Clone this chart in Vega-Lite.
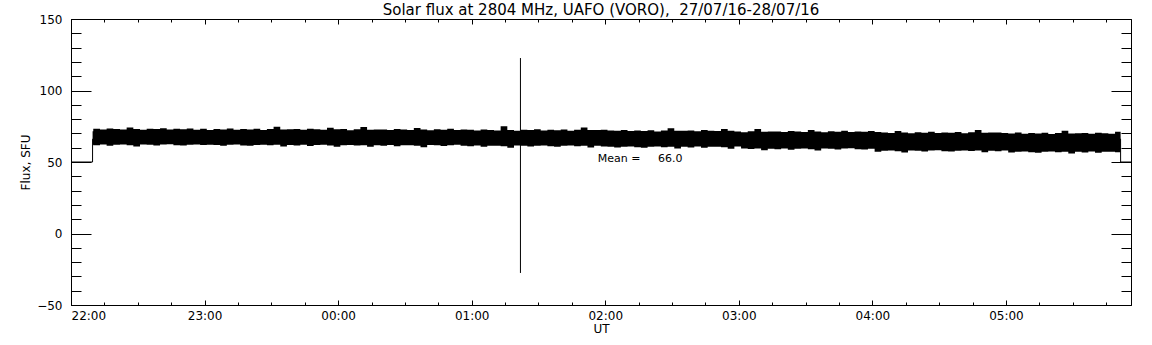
{
  "$schema": "https://vega.github.io/schema/vega-lite/v6.json",
  "width": 1060,
  "height": 286,
  "autosize": {"type": "none"},
  "padding": {"left": 71, "top": 19, "right": 21, "bottom": 40},
  "background": "white",
  "title": {
    "text": "Solar flux at 2804 MHz, UAFO (VORO),\u00a0\u00a027/07/16-28/07/16",
    "font": "DejaVu Sans",
    "fontSize": 15,
    "fontWeight": "normal",
    "color": "black",
    "anchor": "middle",
    "offset": -5
  },
  "config": {
    "view": {"stroke": null},
    "axis": {
      "grid": false,
      "domainColor": "black",
      "tickColor": "black",
      "labelColor": "black",
      "titleColor": "black",
      "labelFont": "DejaVu Sans",
      "titleFont": "DejaVu Sans",
      "labelFontSize": 12,
      "titleFontSize": 12,
      "titleFontWeight": "normal",
      "zindex": 1
    }
  },
  "datasets": {
    "band": [
      {"t": "2016-07-27T22:09:42Z", "lo": 62.0, "hi": 71.5},
      {"t": "2016-07-27T22:10:00Z", "lo": 61.7, "hi": 73.2},
      {"t": "2016-07-27T22:13:00Z", "lo": 62.3, "hi": 72.7},
      {"t": "2016-07-27T22:16:00Z", "lo": 61.4, "hi": 73.5},
      {"t": "2016-07-27T22:19:00Z", "lo": 62.1, "hi": 73.1},
      {"t": "2016-07-27T22:22:00Z", "lo": 62.2, "hi": 72.8},
      {"t": "2016-07-27T22:25:00Z", "lo": 61.8, "hi": 74.2},
      {"t": "2016-07-27T22:28:00Z", "lo": 60.8, "hi": 73.1},
      {"t": "2016-07-27T22:31:00Z", "lo": 62.3, "hi": 72.6},
      {"t": "2016-07-27T22:34:00Z", "lo": 62.1, "hi": 73.3},
      {"t": "2016-07-27T22:37:00Z", "lo": 61.6, "hi": 73.0},
      {"t": "2016-07-27T22:40:00Z", "lo": 62.2, "hi": 73.6},
      {"t": "2016-07-27T22:43:00Z", "lo": 62.4, "hi": 72.8},
      {"t": "2016-07-27T22:46:00Z", "lo": 61.8, "hi": 73.2},
      {"t": "2016-07-27T22:49:00Z", "lo": 61.5, "hi": 72.9},
      {"t": "2016-07-27T22:52:00Z", "lo": 62.1, "hi": 73.4},
      {"t": "2016-07-27T22:55:00Z", "lo": 62.3, "hi": 72.6},
      {"t": "2016-07-27T22:58:00Z", "lo": 61.9, "hi": 73.3},
      {"t": "2016-07-27T23:01:00Z", "lo": 62.1, "hi": 72.4},
      {"t": "2016-07-27T23:04:00Z", "lo": 61.9, "hi": 73.1},
      {"t": "2016-07-27T23:07:00Z", "lo": 61.4, "hi": 72.8},
      {"t": "2016-07-27T23:10:00Z", "lo": 62.0, "hi": 73.4},
      {"t": "2016-07-27T23:13:00Z", "lo": 62.2, "hi": 72.6},
      {"t": "2016-07-27T23:16:00Z", "lo": 61.6, "hi": 73.0},
      {"t": "2016-07-27T23:19:00Z", "lo": 61.3, "hi": 72.7},
      {"t": "2016-07-27T23:22:00Z", "lo": 61.9, "hi": 73.2},
      {"t": "2016-07-27T23:25:00Z", "lo": 62.1, "hi": 72.4},
      {"t": "2016-07-27T23:28:00Z", "lo": 61.7, "hi": 73.1},
      {"t": "2016-07-27T23:31:00Z", "lo": 62.0, "hi": 74.6},
      {"t": "2016-07-27T23:34:00Z", "lo": 60.8, "hi": 72.8},
      {"t": "2016-07-27T23:37:00Z", "lo": 61.9, "hi": 72.9},
      {"t": "2016-07-27T23:40:00Z", "lo": 61.5, "hi": 73.0},
      {"t": "2016-07-27T23:43:00Z", "lo": 62.1, "hi": 72.5},
      {"t": "2016-07-27T23:46:00Z", "lo": 61.2, "hi": 73.3},
      {"t": "2016-07-27T23:49:00Z", "lo": 61.9, "hi": 72.9},
      {"t": "2016-07-27T23:52:00Z", "lo": 62.0, "hi": 72.6},
      {"t": "2016-07-27T23:55:00Z", "lo": 61.6, "hi": 74.0},
      {"t": "2016-07-27T23:58:00Z", "lo": 60.6, "hi": 72.9},
      {"t": "2016-07-28T00:01:00Z", "lo": 61.7, "hi": 73.0},
      {"t": "2016-07-28T00:04:00Z", "lo": 61.9, "hi": 72.2},
      {"t": "2016-07-28T00:07:00Z", "lo": 61.5, "hi": 72.9},
      {"t": "2016-07-28T00:10:00Z", "lo": 61.8, "hi": 74.4},
      {"t": "2016-07-28T00:13:00Z", "lo": 60.6, "hi": 72.6},
      {"t": "2016-07-28T00:16:00Z", "lo": 61.7, "hi": 72.7},
      {"t": "2016-07-28T00:19:00Z", "lo": 61.3, "hi": 72.8},
      {"t": "2016-07-28T00:22:00Z", "lo": 61.9, "hi": 72.3},
      {"t": "2016-07-28T00:25:00Z", "lo": 61.0, "hi": 73.1},
      {"t": "2016-07-28T00:28:00Z", "lo": 61.7, "hi": 72.7},
      {"t": "2016-07-28T00:31:00Z", "lo": 61.8, "hi": 72.4},
      {"t": "2016-07-28T00:34:00Z", "lo": 61.4, "hi": 73.8},
      {"t": "2016-07-28T00:37:00Z", "lo": 60.4, "hi": 72.7},
      {"t": "2016-07-28T00:40:00Z", "lo": 61.9, "hi": 72.2},
      {"t": "2016-07-28T00:43:00Z", "lo": 61.7, "hi": 72.9},
      {"t": "2016-07-28T00:46:00Z", "lo": 61.2, "hi": 72.6},
      {"t": "2016-07-28T00:49:00Z", "lo": 61.8, "hi": 73.2},
      {"t": "2016-07-28T00:52:00Z", "lo": 62.0, "hi": 72.4},
      {"t": "2016-07-28T00:55:00Z", "lo": 61.4, "hi": 72.8},
      {"t": "2016-07-28T00:58:00Z", "lo": 61.1, "hi": 72.5},
      {"t": "2016-07-28T01:01:00Z", "lo": 61.5, "hi": 72.0},
      {"t": "2016-07-28T01:04:00Z", "lo": 60.6, "hi": 72.8},
      {"t": "2016-07-28T01:07:00Z", "lo": 61.3, "hi": 72.4},
      {"t": "2016-07-28T01:10:00Z", "lo": 61.4, "hi": 72.1},
      {"t": "2016-07-28T01:13:00Z", "lo": 61.0, "hi": 75.0},
      {"t": "2016-07-28T01:16:00Z", "lo": 60.0, "hi": 72.4},
      {"t": "2016-07-28T01:19:00Z", "lo": 61.5, "hi": 71.9},
      {"t": "2016-07-28T01:22:00Z", "lo": 61.3, "hi": 72.6},
      {"t": "2016-07-28T01:25:00Z", "lo": 60.8, "hi": 72.3},
      {"t": "2016-07-28T01:28:00Z", "lo": 61.4, "hi": 72.9},
      {"t": "2016-07-28T01:31:00Z", "lo": 61.6, "hi": 72.1},
      {"t": "2016-07-28T01:34:00Z", "lo": 61.0, "hi": 72.5},
      {"t": "2016-07-28T01:37:00Z", "lo": 60.7, "hi": 72.2},
      {"t": "2016-07-28T01:40:00Z", "lo": 61.3, "hi": 72.7},
      {"t": "2016-07-28T01:43:00Z", "lo": 61.5, "hi": 71.9},
      {"t": "2016-07-28T01:46:00Z", "lo": 61.1, "hi": 72.6},
      {"t": "2016-07-28T01:49:00Z", "lo": 61.4, "hi": 74.1},
      {"t": "2016-07-28T01:52:00Z", "lo": 60.2, "hi": 72.3},
      {"t": "2016-07-28T01:55:00Z", "lo": 61.3, "hi": 72.4},
      {"t": "2016-07-28T01:58:00Z", "lo": 60.9, "hi": 72.5},
      {"t": "2016-07-28T02:01:00Z", "lo": 60.6, "hi": 72.1},
      {"t": "2016-07-28T02:04:00Z", "lo": 60.1, "hi": 71.8},
      {"t": "2016-07-28T02:07:00Z", "lo": 60.7, "hi": 72.4},
      {"t": "2016-07-28T02:10:00Z", "lo": 60.9, "hi": 71.6},
      {"t": "2016-07-28T02:13:00Z", "lo": 60.3, "hi": 72.0},
      {"t": "2016-07-28T02:16:00Z", "lo": 60.0, "hi": 71.7},
      {"t": "2016-07-28T02:19:00Z", "lo": 60.6, "hi": 72.2},
      {"t": "2016-07-28T02:22:00Z", "lo": 60.8, "hi": 71.4},
      {"t": "2016-07-28T02:25:00Z", "lo": 60.4, "hi": 72.1},
      {"t": "2016-07-28T02:28:00Z", "lo": 60.7, "hi": 73.6},
      {"t": "2016-07-28T02:31:00Z", "lo": 59.5, "hi": 71.8},
      {"t": "2016-07-28T02:34:00Z", "lo": 60.6, "hi": 71.9},
      {"t": "2016-07-28T02:37:00Z", "lo": 60.2, "hi": 72.0},
      {"t": "2016-07-28T02:40:00Z", "lo": 60.8, "hi": 71.5},
      {"t": "2016-07-28T02:43:00Z", "lo": 59.9, "hi": 72.3},
      {"t": "2016-07-28T02:46:00Z", "lo": 60.6, "hi": 71.9},
      {"t": "2016-07-28T02:49:00Z", "lo": 60.7, "hi": 71.6},
      {"t": "2016-07-28T02:52:00Z", "lo": 60.3, "hi": 73.0},
      {"t": "2016-07-28T02:55:00Z", "lo": 59.3, "hi": 71.9},
      {"t": "2016-07-28T02:58:00Z", "lo": 60.8, "hi": 71.4},
      {"t": "2016-07-28T03:01:00Z", "lo": 59.5, "hi": 70.8},
      {"t": "2016-07-28T03:04:00Z", "lo": 59.1, "hi": 71.5},
      {"t": "2016-07-28T03:07:00Z", "lo": 59.4, "hi": 73.0},
      {"t": "2016-07-28T03:10:00Z", "lo": 58.2, "hi": 71.2},
      {"t": "2016-07-28T03:13:00Z", "lo": 59.3, "hi": 71.3},
      {"t": "2016-07-28T03:16:00Z", "lo": 58.9, "hi": 71.4},
      {"t": "2016-07-28T03:19:00Z", "lo": 59.5, "hi": 70.9},
      {"t": "2016-07-28T03:22:00Z", "lo": 58.6, "hi": 71.7},
      {"t": "2016-07-28T03:25:00Z", "lo": 59.3, "hi": 71.3},
      {"t": "2016-07-28T03:28:00Z", "lo": 59.4, "hi": 71.0},
      {"t": "2016-07-28T03:31:00Z", "lo": 59.0, "hi": 72.4},
      {"t": "2016-07-28T03:34:00Z", "lo": 58.0, "hi": 71.3},
      {"t": "2016-07-28T03:37:00Z", "lo": 59.5, "hi": 70.8},
      {"t": "2016-07-28T03:40:00Z", "lo": 59.3, "hi": 71.5},
      {"t": "2016-07-28T03:43:00Z", "lo": 58.8, "hi": 71.2},
      {"t": "2016-07-28T03:46:00Z", "lo": 59.4, "hi": 71.8},
      {"t": "2016-07-28T03:49:00Z", "lo": 59.6, "hi": 71.0},
      {"t": "2016-07-28T03:52:00Z", "lo": 59.0, "hi": 71.4},
      {"t": "2016-07-28T03:55:00Z", "lo": 58.7, "hi": 71.1},
      {"t": "2016-07-28T03:58:00Z", "lo": 59.3, "hi": 71.6},
      {"t": "2016-07-28T04:01:00Z", "lo": 57.2, "hi": 71.0},
      {"t": "2016-07-28T04:04:00Z", "lo": 57.9, "hi": 70.6},
      {"t": "2016-07-28T04:07:00Z", "lo": 58.0, "hi": 70.3},
      {"t": "2016-07-28T04:10:00Z", "lo": 57.6, "hi": 71.7},
      {"t": "2016-07-28T04:13:00Z", "lo": 56.6, "hi": 70.6},
      {"t": "2016-07-28T04:16:00Z", "lo": 58.1, "hi": 70.1},
      {"t": "2016-07-28T04:19:00Z", "lo": 57.9, "hi": 70.8},
      {"t": "2016-07-28T04:22:00Z", "lo": 57.4, "hi": 70.5},
      {"t": "2016-07-28T04:25:00Z", "lo": 58.0, "hi": 71.1},
      {"t": "2016-07-28T04:28:00Z", "lo": 58.2, "hi": 70.3},
      {"t": "2016-07-28T04:31:00Z", "lo": 57.6, "hi": 70.7},
      {"t": "2016-07-28T04:34:00Z", "lo": 57.3, "hi": 70.4},
      {"t": "2016-07-28T04:37:00Z", "lo": 57.9, "hi": 70.9},
      {"t": "2016-07-28T04:40:00Z", "lo": 58.1, "hi": 70.1},
      {"t": "2016-07-28T04:43:00Z", "lo": 57.7, "hi": 70.8},
      {"t": "2016-07-28T04:46:00Z", "lo": 58.0, "hi": 72.3},
      {"t": "2016-07-28T04:49:00Z", "lo": 56.8, "hi": 70.5},
      {"t": "2016-07-28T04:52:00Z", "lo": 57.9, "hi": 70.6},
      {"t": "2016-07-28T04:55:00Z", "lo": 57.5, "hi": 70.7},
      {"t": "2016-07-28T04:58:00Z", "lo": 58.1, "hi": 70.2},
      {"t": "2016-07-28T05:01:00Z", "lo": 56.6, "hi": 70.0},
      {"t": "2016-07-28T05:04:00Z", "lo": 57.2, "hi": 70.6},
      {"t": "2016-07-28T05:07:00Z", "lo": 57.4, "hi": 69.8},
      {"t": "2016-07-28T05:10:00Z", "lo": 56.8, "hi": 70.2},
      {"t": "2016-07-28T05:13:00Z", "lo": 56.5, "hi": 69.9},
      {"t": "2016-07-28T05:16:00Z", "lo": 57.1, "hi": 70.4},
      {"t": "2016-07-28T05:19:00Z", "lo": 57.3, "hi": 69.6},
      {"t": "2016-07-28T05:22:00Z", "lo": 56.9, "hi": 70.3},
      {"t": "2016-07-28T05:25:00Z", "lo": 57.2, "hi": 71.8},
      {"t": "2016-07-28T05:28:00Z", "lo": 56.0, "hi": 70.0},
      {"t": "2016-07-28T05:31:00Z", "lo": 57.1, "hi": 70.1},
      {"t": "2016-07-28T05:34:00Z", "lo": 56.7, "hi": 70.2},
      {"t": "2016-07-28T05:37:00Z", "lo": 57.3, "hi": 69.7},
      {"t": "2016-07-28T05:40:00Z", "lo": 56.4, "hi": 70.5},
      {"t": "2016-07-28T05:43:00Z", "lo": 57.1, "hi": 70.1},
      {"t": "2016-07-28T05:46:00Z", "lo": 57.2, "hi": 69.8},
      {"t": "2016-07-28T05:49:00Z", "lo": 56.8, "hi": 71.2},
      {"t": "2016-07-28T05:51:30Z", "lo": 56.8, "hi": 71.2}
    ],
    "edges": [
      {"t": "2016-07-27T22:00:00Z", "v": 50},
      {"t": "2016-07-27T22:09:41Z", "v": 50},
      {"t": "2016-07-27T22:09:42Z", "v": 66},
      {"t": "2016-07-28T05:51:29Z", "v": 66},
      {"t": "2016-07-28T05:51:30Z", "v": 50},
      {"t": "2016-07-28T05:56:10Z", "v": 50}
    ],
    "spike": [
      {"t": "2016-07-28T01:21:54Z", "top": 122.7, "bottom": -27.6}
    ],
    "note": [
      {"t": "2016-07-28T01:56:40Z", "v": 51.9, "label": "Mean =\u00a0\u00a0\u00a0\u00a0\u00a066.0"}
    ]
  },
  "resolve": {"axis": {"x": "independent", "y": "independent"}},
  "layer": [
    {
      "data": {"name": "band"},
      "mark": {"type": "area", "interpolate": "step-after", "color": "black", "opacity": 1},
      "encoding": {
        "x": {
          "field": "t", "type": "temporal",
          "scale": {"type": "utc", "domain": [1469656800000, 1469685370000], "nice": false},
          "axis": {"orient": "bottom", "title": "UT", "format": "%H:%M", "values": [1469656800000, 1469660400000, 1469664000000, 1469667600000, 1469671200000, 1469674800000, 1469678400000, 1469682000000], "tickSize": -5, "labelPadding": 10, "titlePadding": 2, "domain": true}
        },
        "y": {
          "field": "hi", "type": "quantitative",
          "scale": {"domain": [-50, 150], "nice": false, "zero": false},
          "axis": {"orient": "left", "title": "Flux, SFU", "values": [-50, 0, 50, 100, 150], "tickSize": -20, "labelPadding": 29, "titlePadding": 4, "domain": true}
        },
        "y2": {"field": "lo"}
      }
    },
    {
      "data": {"name": "edges"},
      "mark": {"type": "line", "color": "black", "strokeWidth": 1},
      "encoding": {
        "x": {
          "field": "t", "type": "temporal",
          "axis": {"orient": "bottom", "title": null, "labels": false, "domain": false, "tickCount": 48, "tickSize": -3}
        },
        "y": {
          "field": "v", "type": "quantitative",
          "axis": {"orient": "left", "title": null, "labels": false, "domain": false, "values": [-50, -40, -30, -20, -10, 0, 10, 20, 30, 40, 50, 60, 70, 80, 90, 100, 110, 120, 130, 140, 150], "tickSize": -10}
        }
      }
    },
    {
      "data": {"name": "spike"},
      "mark": {"type": "rule", "color": "black", "strokeWidth": 1},
      "encoding": {
        "x": {
          "field": "t", "type": "temporal",
          "axis": {"orient": "top", "title": null, "labels": false, "domain": true, "values": [1469656800000, 1469660400000, 1469664000000, 1469667600000, 1469671200000, 1469674800000, 1469678400000, 1469682000000], "tickSize": -5}
        },
        "y": {
          "field": "top", "type": "quantitative",
          "axis": {"orient": "right", "title": null, "labels": false, "domain": true, "values": [-50, 0, 50, 100, 150], "tickSize": -20}
        },
        "y2": {"field": "bottom"}
      }
    },
    {
      "data": {"name": "note"},
      "mark": {"type": "text", "color": "black", "align": "left", "baseline": "middle", "font": "DejaVu Sans", "fontSize": 11},
      "encoding": {
        "x": {
          "field": "t", "type": "temporal",
          "axis": {"orient": "top", "title": null, "labels": false, "domain": false, "tickCount": 48, "tickSize": -3}
        },
        "y": {
          "field": "v", "type": "quantitative",
          "axis": {"orient": "right", "title": null, "labels": false, "domain": false, "values": [-50, -40, -30, -20, -10, 0, 10, 20, 30, 40, 50, 60, 70, 80, 90, 100, 110, 120, 130, 140, 150], "tickSize": -10}
        },
        "text": {"field": "label"}
      }
    }
  ]
}
